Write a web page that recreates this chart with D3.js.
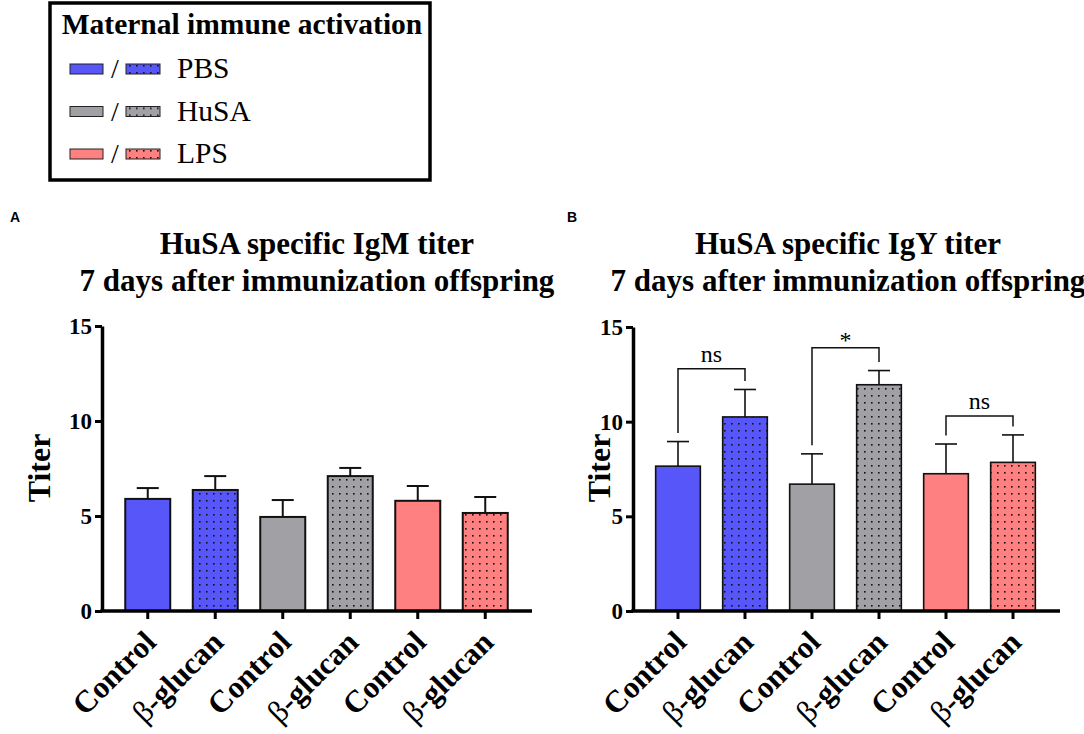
<!DOCTYPE html>
<html>
<head>
<meta charset="UTF-8">
<title>HuSA titer</title>
<script src="https://cdn.jsdelivr.net/npm/d3@7"></script>
<style>
body { margin: 0; background: #fff; }
svg { display: block; }
</style>
</head>
<body>
<div id="chart"></div>
<script>
// data
var categories = ['Control', 'β-glucan', 'Control', 'β-glucan', 'Control', 'β-glucan'];
var groups = ['PBS', 'PBS', 'HuSA', 'HuSA', 'LPS', 'LPS'];
var dotted = [false, true, false, true, false, true];
var igmMean = [5.9, 6.37, 4.95, 7.1, 5.8, 5.16];
var igmSem = [0.57, 0.73, 0.89, 0.43, 0.78, 0.84];
var igyMean = [7.65, 10.25, 6.7, 11.95, 7.25, 7.85];
var igySem = [1.3, 1.45, 1.6, 0.75, 1.57, 1.45];
var yTicks = [0, 5, 10, 15];
var legendGroups = ['PBS', 'HuSA', 'LPS'];
// significance brackets for panel B: bar indices, bracket level (titer), label
var igyStats = [
    {from: 0, to: 1, level: 12.8, label: 'ns'},
    {from: 2, to: 3, level: 13.9, label: '*'},
    {from: 4, to: 5, level: 10.3, label: 'ns'}
];

var colors = {PBS: '#5656f9', HuSA: '#a1a0a5', LPS: '#fe8080'};
var serif = '"Liberation Serif", "Times New Roman", serif';

var svg = d3.select('#chart').append('svg')
    .attr('width', 1084)
    .attr('height', 734);

// dotted fills, one per group colour
var defs = svg.append('defs');
legendGroups.forEach(function(gr) {
    var p = defs.append('pattern')
        .attr('id', 'dots-' + gr)
        .attr('patternUnits', 'userSpaceOnUse')
        .attr('width', 7)
        .attr('height', 7);
    p.append('rect').attr('width', 7).attr('height', 7).attr('fill', colors[gr]);
    p.append('rect').attr('x', 3).attr('y', 3).attr('width', 1.6).attr('height', 1.6).attr('fill', '#111');
});

function fillFor(i) {
    return dotted[i] ? 'url(#dots-' + groups[i] + ')' : colors[groups[i]];
}

// legend
var legend = svg.append('g').attr('class', 'legend');
legend.append('rect')
    .attr('x', 50).attr('y', 3)
    .attr('width', 380).attr('height', 177)
    .attr('fill', '#fff')
    .attr('stroke', '#000')
    .attr('stroke-width', 3.5);
legend.append('text')
    .attr('x', 242).attr('y', 34)
    .attr('text-anchor', 'middle')
    .style('font-family', serif)
    .style('font-weight', 'bold')
    .style('font-size', '29.5px')
    .text('Maternal immune activation');

var rowY = d3.scalePoint().domain(legendGroups).range([69, 154]);
var rows = legend.selectAll('g.row')
    .data(legendGroups)
    .enter().append('g')
    .attr('class', 'row')
    .attr('transform', function(d) { return 'translate(0,' + rowY(d) + ')'; });
rows.append('rect')
    .attr('x', 70).attr('y', -5).attr('width', 33).attr('height', 10)
    .attr('fill', function(d) { return colors[d]; })
    .attr('stroke', '#222').attr('stroke-width', 1);
rows.append('text')
    .attr('x', 115).attr('y', 9)
    .attr('text-anchor', 'middle')
    .style('font-family', serif)
    .style('font-size', '28px')
    .text('/');
rows.append('rect')
    .attr('x', 126).attr('y', -5).attr('width', 34).attr('height', 10)
    .attr('fill', function(d) { return 'url(#dots-' + d + ')'; })
    .attr('stroke', '#222').attr('stroke-width', 1);
rows.append('text')
    .attr('x', 177).attr('y', 9)
    .style('font-family', serif)
    .style('font-size', '29.5px')
    .text(function(d) { return d; });

function drawPanel(opt) {
    var g = svg.append('g').attr('class', 'panel');

    var x = d3.scaleBand()
        .domain(d3.range(categories.length))
        .range(opt.xRange)
        .paddingInner(1 / 3)
        .paddingOuter(1 / 6);
    var y = d3.scaleLinear()
        .domain([0, 15])
        .range([611, opt.yTop]);

    // panel letter
    g.append('text')
        .attr('x', opt.letterX).attr('y', 222)
        .style('font-family', '"Liberation Sans", Arial, sans-serif')
        .style('font-weight', 'bold')
        .style('font-size', '14px')
        .text(opt.letter);

    // title
    var title = g.append('text')
        .attr('text-anchor', 'middle')
        .style('font-family', serif)
        .style('font-weight', 'bold')
        .style('font-size', '31px');
    title.append('tspan').attr('x', opt.titleX).attr('y', 254).text(opt.title[0]);
    title.append('tspan').attr('x', opt.titleX).attr('y', 291).text(opt.title[1]);

    // error bars (upper only)
    var err = g.selectAll('g.err')
        .data(opt.mean)
        .enter().append('g')
        .attr('class', 'err')
        .attr('stroke', '#111')
        .attr('stroke-width', opt.lineW);
    err.append('line')
        .attr('x1', function(d, i) { return x(i) + x.bandwidth() / 2; })
        .attr('x2', function(d, i) { return x(i) + x.bandwidth() / 2; })
        .attr('y1', function(d) { return y(d); })
        .attr('y2', function(d, i) { return y(d + opt.sem[i]); });
    err.append('line')
        .attr('x1', function(d, i) { return x(i) + x.bandwidth() / 2 - 11; })
        .attr('x2', function(d, i) { return x(i) + x.bandwidth() / 2 + 11; })
        .attr('y1', function(d, i) { return y(d + opt.sem[i]); })
        .attr('y2', function(d, i) { return y(d + opt.sem[i]); });

    // bars
    g.selectAll('rect.bar')
        .data(opt.mean)
        .enter().append('rect')
        .attr('class', 'bar')
        .attr('x', function(d, i) { return x(i); })
        .attr('width', x.bandwidth())
        .attr('y', function(d) { return y(d); })
        .attr('height', function(d) { return y(0) - y(d); })
        .attr('fill', function(d, i) { return fillFor(i); })
        .attr('stroke', '#111')
        .attr('stroke-width', opt.barW);

    // y axis
    var yAxis = d3.axisLeft(y)
        .tickValues(yTicks)
        .tickSize(7)
        .tickSizeOuter(0)
        .tickPadding(3);
    var ya = g.append('g')
        .attr('transform', 'translate(' + opt.axisX + ',0)')
        .call(yAxis);
    ya.select('.domain').attr('stroke-width', 3.5).attr('stroke', '#000');
    ya.selectAll('.tick line').attr('stroke-width', 3).attr('stroke', '#000');
    ya.selectAll('.tick text')
        .style('font-family', serif)
        .style('font-weight', 'bold')
        .style('font-size', '23px')
        .attr('fill', '#000');

    // x axis
    var xAxis = d3.axisBottom(x)
        .tickSize(8)
        .tickSizeOuter(0)
        .tickFormat(function(i) { return categories[i]; });
    var xa = g.append('g')
        .attr('transform', 'translate(0,611)')
        .call(xAxis);
    xa.select('.domain').remove();
    xa.append('line')
        .attr('x1', opt.axisX - 1.75).attr('x2', opt.xEnd)
        .attr('stroke', '#000')
        .attr('stroke-width', 3.5);
    xa.selectAll('.tick line').attr('stroke-width', 3).attr('stroke', '#000');
    xa.selectAll('.tick text')
        .attr('text-anchor', 'end')
        .attr('y', 0).attr('dy', 0)
        .attr('transform', 'translate(10,33) rotate(-45)')
        .style('font-family', serif)
        .style('font-weight', 'bold')
        .style('font-size', '31px')
        .attr('fill', '#000')
        .each(function(i) {
            // the greek letter is set in a plain weight
            var s = categories[i];
            if (s.charAt(0) === 'β') {
                var t = d3.select(this).text('');
                t.append('tspan').style('font-weight', 'normal').text('β');
                t.append('tspan').text(s.slice(1));
            }
        });

    // y label
    g.append('text')
        .attr('transform', 'translate(' + opt.labelX + ',468) rotate(-90)')
        .attr('text-anchor', 'middle')
        .style('font-family', serif)
        .style('font-weight', 'bold')
        .style('font-size', '32px')
        .text('Titer');

    // significance brackets
    var cx = function(i) { return x(i) + x.bandwidth() / 2; };
    var top = function(i) { return opt.mean[i] + opt.sem[i] + 0.45; };
    var br = g.selectAll('g.bracket')
        .data(opt.stats || [])
        .enter().append('g')
        .attr('class', 'bracket');
    br.append('path')
        .attr('fill', 'none')
        .attr('stroke', '#111')
        .attr('stroke-width', 1.5)
        .attr('d', function(d) {
            return 'M' + cx(d.from) + ',' + y(top(d.from)) +
                'V' + y(d.level) + 'H' + cx(d.to) + 'V' + y(top(d.to));
        });
    br.append('text')
        .attr('x', function(d) { return (cx(d.from) + cx(d.to)) / 2; })
        .attr('y', function(d) { return y(d.level) - (d.label === '*' ? 0 : 7); })
        .attr('text-anchor', 'middle')
        .style('font-family', serif)
        .style('font-size', '24px')
        .text(function(d) { return d.label; });
}

drawPanel({
    letter: 'A', letterX: 10,
    title: ['HuSA specific IgM titer', '7 days after immunization offspring'],
    titleX: 317,
    xRange: [114, 519], xEnd: 532, axisX: 102, yTop: 326, labelX: 50,
    mean: igmMean, sem: igmSem,
    lineW: 2, barW: 2
});

drawPanel({
    letter: 'B', letterX: 567,
    title: ['HuSA specific IgY titer', '7 days after immunization offspring'],
    titleX: 848,
    xRange: [644.5, 1046.5], xEnd: 1060, axisX: 633, yTop: 327, labelX: 610,
    mean: igyMean, sem: igySem, stats: igyStats,
    lineW: 1.6, barW: 1.6
});
</script>
</body>
</html>
